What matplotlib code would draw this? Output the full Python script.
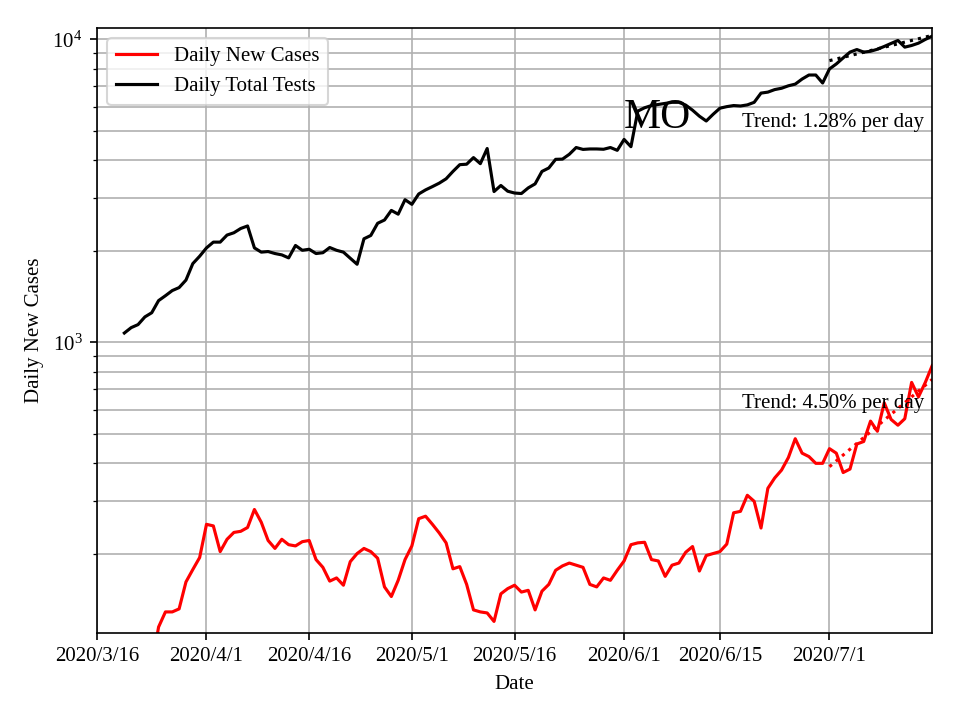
import matplotlib
matplotlib.use("Agg")
import matplotlib.pyplot as plt
import matplotlib.ticker as mticker
import pandas as pd

plt.rcParams['font.family'] = 'serif'
plt.rcParams['font.serif'] = ['Liberation Serif', 'DejaVu Serif']
plt.rcParams['mathtext.fontset'] = 'stix'
plt.rcParams['font.size'] = 10

# daily total tests, 2020/3/20 .. 2020/7/16
tests = [1074, 1119, 1145, 1214, 1253, 1374, 1426, 1483, 1517, 1606,
         1820, 1925, 2051, 2143, 2143, 2261, 2301, 2377, 2423, 2051,
         1986, 1995, 1965, 1945, 1901, 2089, 2014, 2030, 1965, 1977,
         2057, 2014, 1986, 1896, 1811, 2198, 2254, 2473, 2535, 2727,
         2650, 2958, 2856, 3090, 3187, 3268, 3355, 3467, 3667, 3861,
         3874, 4074, 3890, 4365, 3147, 3296, 3155, 3112, 3100, 3236,
         3336, 3667, 3764, 4020, 4027, 4178, 4398, 4335, 4350, 4350,
         4340, 4398, 4305, 4677, 4425, 5800, 5950, 6050, 6100, 6150,
         6200, 6200, 6070, 5840, 5580, 5380, 5660, 5930, 6000, 6050,
         6030, 6080, 6200, 6650, 6700, 6830, 6900, 7030, 7120, 7400,
         7630, 7630, 7180, 7990, 8300, 8690, 9080, 9260, 9080, 9140,
         9280, 9480, 9700, 9920, 9430, 9550, 9720, 10000, 10250]

# daily new cases, 2020/3/24 .. 2020/7/16
cases = [85, 115, 129, 129, 132, 162, 178, 195, 251, 248,
         204, 224, 236, 238, 245, 281, 255, 222, 209, 224,
         215, 213, 220, 222, 192, 181, 163, 167, 158, 189,
         201, 209, 204, 194, 156, 145, 164, 192, 213, 262,
         267, 251, 235, 218, 179, 182, 159, 131, 129, 128,
         120, 148, 154, 158, 150, 152, 131, 151, 159, 177,
         183, 187, 184, 181, 159, 156, 167, 164, 177, 190,
         215, 218, 219, 192, 190, 169, 184, 187, 203, 212,
         176, 198, 201, 204, 216, 274, 277, 313, 299, 244,
         330, 357, 379, 417, 481, 431, 420, 399, 399, 446,
         431, 372, 382, 462, 471, 550, 509, 632, 557, 533,
         560, 738, 661, 738, 838]

trend_dates = ['2020-07-01', '2020-07-16']
tests_trend = [8510, 10310]
cases_trend = [389, 755]

tick_dates = ['2020-03-16', '2020-04-01', '2020-04-16', '2020-05-01',
              '2020-05-16', '2020-06-01', '2020-06-15', '2020-07-01']
tick_labels = ['2020/3/16', '2020/4/1', '2020/4/16', '2020/5/1',
               '2020/5/16', '2020/6/1', '2020/6/15', '2020/7/1']

test_days = pd.date_range('2020-03-20', periods=len(tests))
case_days = pd.date_range('2020-03-24', periods=len(cases))
trend_days = pd.to_datetime(trend_dates)

fig = plt.figure(figsize=(6.4, 4.8), dpi=150)
ax = fig.add_axes([0.101, 0.121, 0.870, 0.840])

ax.plot(case_days, cases, color='red', lw=1.5, label='Daily New Cases')
ax.plot(test_days, tests, color='black', lw=1.5, label='Daily Total Tests')
ax.plot(trend_days, cases_trend, color='red', ls=':', lw=1.5)
ax.plot(trend_days, tests_trend, color='black', ls=':', lw=1.5)

ax.set_yscale('log')
ax.set_ylim(110, 10900)
ax.set_xlim(pd.Timestamp('2020-03-16'), pd.Timestamp('2020-07-16'))
ax.set_xticks(pd.to_datetime(tick_dates))
ax.set_xticklabels(tick_labels)
ax.yaxis.set_minor_formatter(mticker.NullFormatter())

ax.grid(True, which='both', color='#b0b0b0', lw=0.8)
ax.set_axisbelow(True)

ax.text(pd.Timestamp('2020-06-01'), 5100, 'MO', fontsize=20,
        ha='left', va='baseline')
ax.text(0.99, 5150, 'Trend: 1.28% per day', ha='right', va='baseline',
        transform=ax.get_yaxis_transform())
ax.text(0.99, 607, 'Trend: 4.50% per day', ha='right', va='baseline',
        transform=ax.get_yaxis_transform())

ax.set_xlabel('Date')
ax.set_ylabel('Daily New Cases')
ax.legend(loc='upper left')

fig.savefig('out.png')
